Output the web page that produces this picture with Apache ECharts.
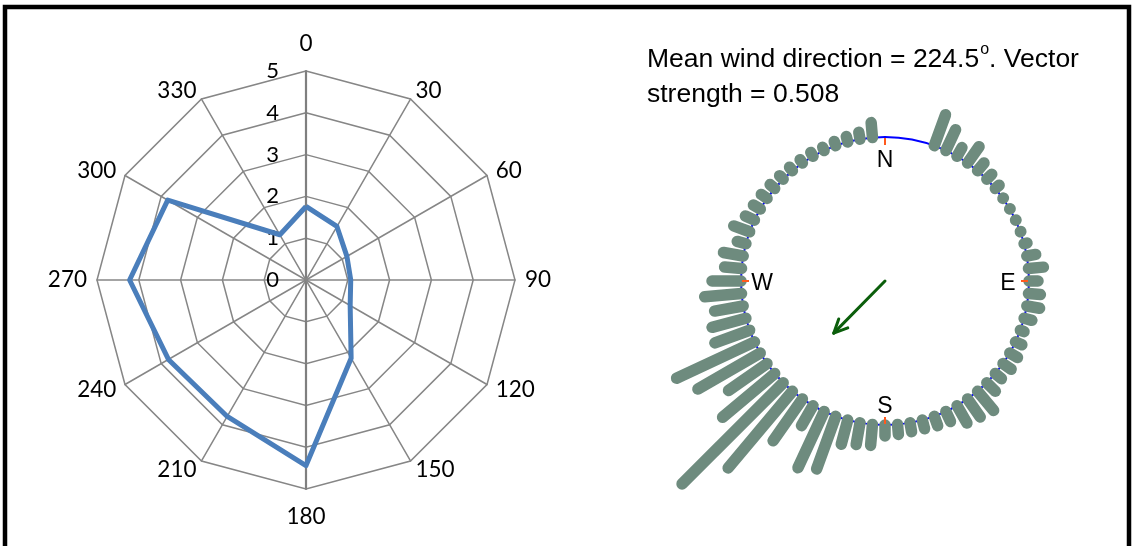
<!DOCTYPE html>
<html><head><meta charset="utf-8">
<script src="https://cdn.jsdelivr.net/npm/echarts@6/dist/echarts.min.js"></script>
<style>html,body{margin:0;padding:0;background:#fff}#c{width:1134px;height:546px}</style>
</head><body><div id="c"></div>
<script>
// ---- Radar (left) data ----
const radarDirections = ['0','30','60','90','120','150','180','210','240','270','300','330'];
const radarValues = [1.76, 1.48, 1.13, 1.07, 1.22, 2.16, 4.44, 3.77, 3.80, 4.22, 3.82, 1.25];
const radarMin = 0;
const radarMax = 5;

// ---- Circular wind histogram (right) data ----
const roseAngles = [0,5,10,15,20,25,30,35,40,45,50,55,60,65,70,75,80,85,
  90,95,100,105,110,115,120,125,130,135,140,145,150,155,160,165,170,175,
  180,185,190,195,200,205,210,215,220,225,230,235,240,245,250,255,260,265,
  270,275,280,285,290,295,300,305,310,315,320,325,330,335,340,345,350,355];
const roseLengths = [null,null,null,null,33,23,10,20,10,7,5,0.5,0.5,0.5,0.5,3,9,15,
  9,12,13,8,4,7,9,10,8,12,25,22,20,11,10,9,9,10,
  11,21,22,25,56,62,23,51,100,143,68,47,72,86,37,35,29,37,
  29,17,20,9,17,10,8,7,6,5,4.5,4,4.5,3.5,4.5,5.5,7,15];
const meanDirection = 224.5;
const vectorStrength = 0.508;
const cardinalAngles = [0, 90, 180, 270];
const cardinalLabels = ['N', 'E', 'S', 'W'];

const BASE = 144;       // ring radius (radius-axis units == px)
const ROSE_MAX = 300;

const chart = echarts.init(document.getElementById('c'), null, {renderer: 'canvas'});

// radar indicators are laid out counter-clockwise from the top
const order = [0, 11, 10, 9, 8, 7, 6, 5, 4, 3, 2, 1];
const indicator = order.map((i, k) => {
  const o = {name: radarDirections[i], min: radarMin, max: radarMax};
  if (k === 0) {
    o.axisLabel = {show: true, margin: 27, color: '#000', fontSize: 22, fontFamily: 'Lato'};
  }
  if (radarDirections[i] === '0' || radarDirections[i] === '180') {
    o.nameGap = 16;
    o.axisLine = {lineStyle: {color: '#7f7f7f', width: 2.2}};
  }
  return o;
});

const font = '"Liberation Sans", Arial, sans-serif';

const option = {
  animation: false,
  backgroundColor: '#fff',
  graphic: [
    {type: 'rect', z: 100, silent: true,
     shape: {x: 5, y: 7, width: 1124, height: 600},
     style: {fill: 'none', stroke: '#000', lineWidth: 4.5}}
  ],
  title: {
    left: 642, top: 37,
    text: '{a|Mean wind direction = ' + meanDirection + '}{s|o}{a|. Vector}\n{a|strength = ' + vectorStrength + '}',
    textStyle: {
      fontWeight: 'normal',
      rich: {
        a: {fontFamily: font, fontSize: 26.5, fontWeight: 'normal', color: '#000', lineHeight: 35},
        s: {fontFamily: font, fontSize: 16, fontWeight: 'normal', color: '#000', verticalAlign: 'top', lineHeight: 35, padding: [0, 0, 13, 1]}
      }
    }
  },
  radar: {
    center: [306, 280],
    radius: 209,
    startAngle: 90,
    shape: 'polygon',
    splitNumber: 5,
    nameGap: 10,
    indicator: indicator,
    axisName: {color: '#000', fontSize: 22.5, fontFamily: 'Lato'},
    axisLine: {lineStyle: {color: '#868686', width: 1.5}},
    splitLine: {lineStyle: {color: '#868686', width: 1.5}},
    splitArea: {show: false},
    axisTick: {show: false},
    axisLabel: {show: false}
  },
  polar: [
    {center: [885, 281], radius: ROSE_MAX},
    {center: [885, 281], radius: BASE}
  ],
  angleAxis: [
    {polarIndex: 0, type: 'value', min: 0, max: 360, startAngle: 90, clockwise: true, show: false},
    {polarIndex: 1, type: 'value', min: 0, max: 360, startAngle: 90, clockwise: true,
     axisLine: {show: true, lineStyle: {color: '#0000ff', width: 2}},
     axisTick: {show: false}, axisLabel: {show: false}, splitLine: {show: false}}
  ],
  radiusAxis: [
    {polarIndex: 0, type: 'value', min: 0, max: ROSE_MAX, show: false},
    {polarIndex: 1, type: 'value', min: 0, max: BASE, show: false}
  ],
  series: [
    {
      type: 'radar',
      symbol: 'none',
      lineStyle: {color: '#4a7ebb', width: 5},
      itemStyle: {color: '#4a7ebb'},
      data: [{value: order.map(i => radarValues[i])}]
    },
    {
      type: 'custom', coordinateSystem: 'polar', polarIndex: 0, silent: true, z: 3,
      data: roseAngles.map((a, i) => roseLengths[i] == null ? null : [roseLengths[i], a]).filter(d => d),
      renderItem: function (params, api) {
        const len = api.value(0), ang = api.value(1);
        const p0 = api.coord([BASE, ang]);
        const p1 = api.coord([BASE + len, ang]);
        return {type: 'line', shape: {x1: p0[0], y1: p0[1], x2: p1[0], y2: p1[1]},
                style: {stroke: '#6e8b7e', lineWidth: 11.5, lineCap: 'round'}};
      }
    },
    {
      type: 'custom', coordinateSystem: 'polar', polarIndex: 0, silent: true, z: 4,
      data: cardinalAngles.map((a, i) => [0, a]),
      renderItem: function (params, api) {
        const ang = api.value(1);
        const name = cardinalLabels[params.dataIndex];
        const t0 = api.coord([BASE - 1, ang]);
        const t1 = api.coord([BASE - 8, ang]);
        const tp = api.coord([BASE - 21, ang]);
        return {type: 'group', children: [
          {type: 'line', shape: {x1: t0[0], y1: t0[1], x2: t1[0], y2: t1[1]},
           style: {stroke: '#ff5a1e', lineWidth: 2}},
          {type: 'text', x: tp[0], y: tp[1] + 2.5,
           style: {text: name, fill: '#000', font: '23px ' + font, align: 'center', verticalAlign: 'middle'}}
        ]};
      }
    },
    {
      type: 'custom', coordinateSystem: 'polar', polarIndex: 0, silent: true, z: 5,
      data: [[vectorStrength, meanDirection]],
      renderItem: function (params, api) {
        const s = api.value(0), dir = api.value(1);
        const p0 = api.coord([0, dir]);
        const p1 = api.coord([s * BASE, dir]);
        const dx = p0[0] - p1[0], dy = p0[1] - p1[1];
        const L = Math.sqrt(dx * dx + dy * dy);
        const ux = dx / L, uy = dy / L;
        const hl = 15, ha = 25 * Math.PI / 180;
        const c = Math.cos(ha), sn = Math.sin(ha);
        const a1 = [p1[0] + hl * (ux * c - uy * sn), p1[1] + hl * (ux * sn + uy * c)];
        const a2 = [p1[0] + hl * (ux * c + uy * sn), p1[1] + hl * (-ux * sn + uy * c)];
        const st = {stroke: '#0b5e0b', lineWidth: 3, lineCap: 'round', lineJoin: 'round', fill: null};
        return {type: 'group', children: [
          {type: 'line', shape: {x1: p0[0], y1: p0[1], x2: p1[0], y2: p1[1]}, style: st},
          {type: 'polyline', shape: {points: [a1, p1, a2]}, style: st}
        ]};
      }
    }
  ]
};
chart.setOption(option);
</script>
</body></html>
